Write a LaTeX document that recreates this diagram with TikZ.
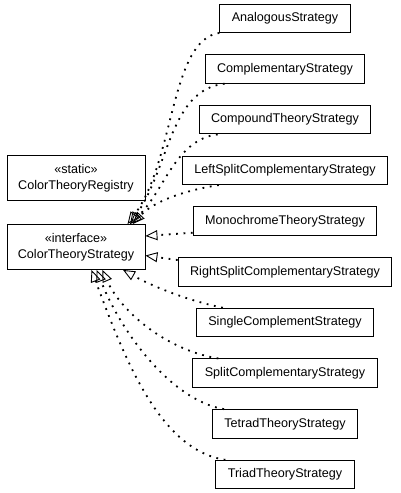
\documentclass[tikz,border=0pt]{standalone}
\usepackage{fontspec}
\newfontfamily\classfont{Liberation Sans}
\usepackage{tikz}
\usetikzlibrary{arrows.meta, positioning}

\begin{document}
\begin{tikzpicture}[
  x=1pt, y=-1pt,
  node distance=21.3pt,
  impl/.style={rectangle, minimum height=28.5pt, inner xsep=12pt,
    text centered, draw=black, line width=0.9pt, fill=white,
    font={\classfont\fontsize{12.6}{16}\selectfont}},
  iface/.style={rectangle, minimum width=138pt, minimum height=45pt,
    align=center, draw=black, line width=0.9pt, fill=white,
    font={\classfont\fontsize{12.6}{16}\selectfont}},
  realize/.style={line width=1.8pt, dash pattern=on 1.8pt off 5.6pt,
    -{Triangle[open, length=12pt, width=10pt, line width=0.9pt]}}
]
\path[use as bounding box, fill=white] (0,0) rectangle (400,493);

\node (theory) [iface] at (76,247) {«interface»\\ColorTheoryStrategy};
\node (registry) [iface, above=23pt of theory] {«static»\\ColorTheoryRegistry};

\node (analogous) [impl] at (285,18.25) {AnalogousStrategy};
\node (complementary) [impl, below=of analogous] {ComplementaryStrategy};
\node (compound) [impl, below=of complementary] {CompoundTheoryStrategy};
\node (leftsplit) [impl, below=of compound] {LeftSplitComplementaryStrategy};
\node (monochrome) [impl, below=of leftsplit] {MonochromeTheoryStrategy};
\node (rightsplit) [impl, below=of monochrome] {RightSplitComplementaryStrategy};
\node (single) [impl, below=of rightsplit] {SingleComplementStrategy};
\node (split) [impl, below=of single] {SplitComplementaryStrategy};
\node (tetrad) [impl, below=of split] {TetradTheoryStrategy};
\node (triad) [impl, below=of tetrad] {TriadTheoryStrategy};

\draw [realize] (analogous.south west) .. controls (170,40) and (175,160) .. (theory.24);
\draw [realize] ([xshift=20pt]complementary.south west) .. controls (170,90) and (170,165) .. (theory.23);
\draw [realize] ([xshift=19pt]compound.south west) .. controls (175,140) and (165,190) .. (theory.23);
\draw [realize] ([xshift=37pt]leftsplit.south west) .. controls (175,192) and (150,205) .. (theory.22);
\draw [realize] ([yshift=3pt]monochrome.south west) -- (theory.9);
\draw [realize] ([yshift=-3pt]rightsplit.north west) -- (theory.-7);
\draw [realize] ([xshift=27pt]single.north west) .. controls (185,300) and (150,285) .. (theory.-26);
\draw [realize] ([xshift=26pt]split.north west) .. controls (165,350) and (120,310) .. (theory.-41);
\draw [realize] ([xshift=12pt]tetrad.north west) .. controls (170,400) and (120,330) .. (theory.-48);
\draw [realize] ([xshift=10pt]triad.north west) .. controls (160,450) and (125,360) .. (theory.-56);

\end{tikzpicture}
\end{document}
